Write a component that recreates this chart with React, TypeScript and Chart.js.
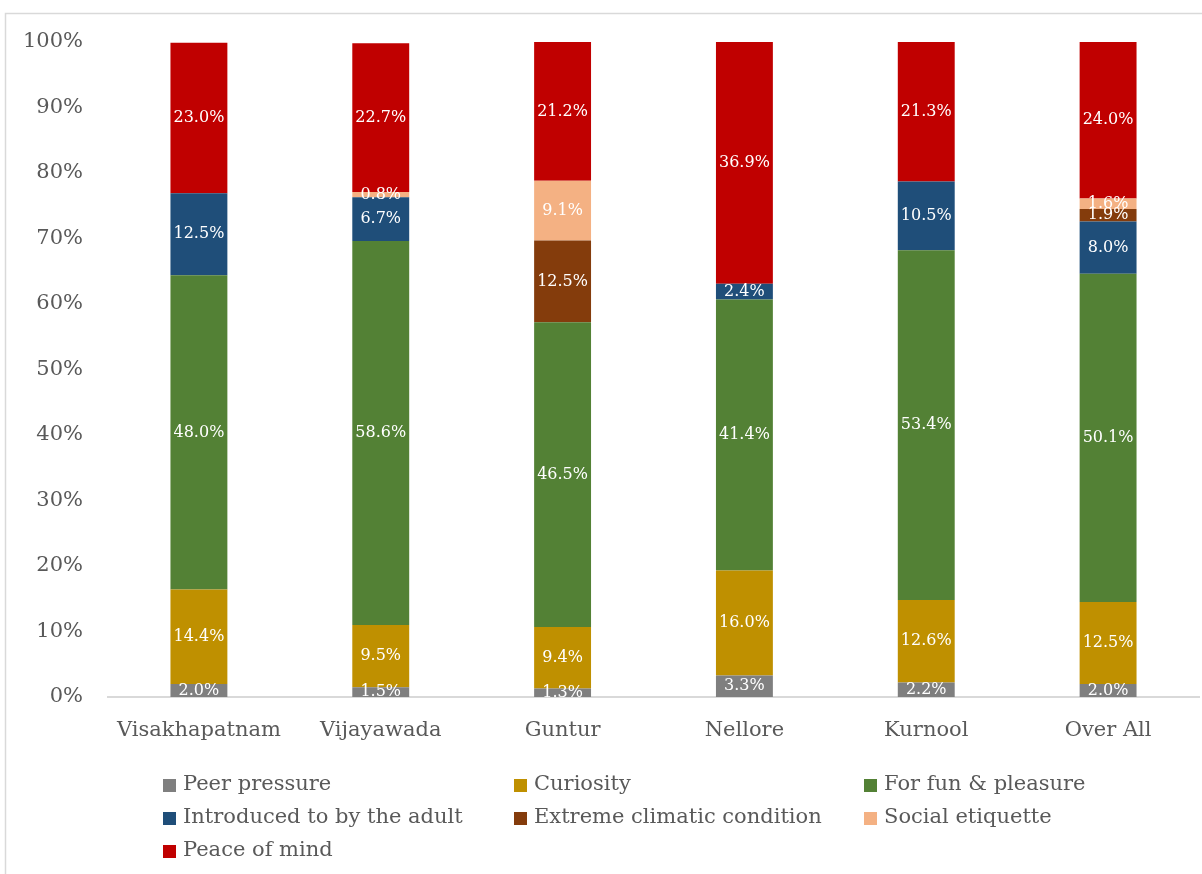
import React, { useEffect, useRef } from "react";
import { Chart, registerables } from "chart.js";

Chart.register(...registerables);

const categories = ["Visakhapatnam", "Vijayawada", "Guntur", "Nellore", "Kurnool", "Over All"];
const peerPressure = [2.0, 1.5, 1.3, 3.3, 2.2, 2.0];
const curiosity = [14.4, 9.5, 9.4, 16.0, 12.6, 12.5];
const funPleasure = [48.0, 58.6, 46.5, 41.4, 53.4, 50.1];
const introducedAdult = [12.5, 6.7, 0, 2.4, 10.5, 8.0];
const extremeClimate = [0, 0, 12.5, 0, 0, 1.9];
const socialEtiquette = [0, 0.8, 9.1, 0, 0, 1.6];
const peaceOfMind = [23.0, 22.7, 21.2, 36.9, 21.3, 24.0];
const yTicks = [0, 10, 20, 30, 40, 50, 60, 70, 80, 90, 100];

const seriesNames = [
  "Peer pressure",
  "Curiosity",
  "For fun & pleasure",
  "Introduced to by the adult",
  "Extreme climatic condition",
  "Social etiquette",
  "Peace of mind",
];
const seriesValues = [peerPressure, curiosity, funPleasure, introducedAdult, extremeClimate, socialEtiquette, peaceOfMind];
const seriesColors = ["#7f7f7f", "#bf9000", "#538135", "#1f4e79", "#843c0c", "#f4b183", "#c00000"];

const FONT = "'DejaVu Serif', 'Liberation Serif', serif";

const labelPlugin = {
  id: "segLabels",
  afterDatasetsDraw(chart: any) {
    const ctx = chart.ctx;
    ctx.save();
    ctx.fillStyle = "#ffffff";
    ctx.font = `16px ${FONT}`;
    ctx.textAlign = "center";
    ctx.textBaseline = "middle";
    chart.data.datasets.forEach((ds: any, i: number) => {
      const meta = chart.getDatasetMeta(i);
      meta.data.forEach((bar: any, j: number) => {
        const v = ds.data[j];
        if (!v) return;
        const p = bar.getProps(["x", "y", "base"], true);
        ctx.fillText(v.toFixed(1) + "%", p.x, (p.y + p.base) / 2);
      });
    });
    ctx.restore();
  },
};

const framePlugin = {
  id: "frame",
  beforeDraw(chart: any) {
    const ctx = chart.ctx;
    ctx.save();
    ctx.strokeStyle = "#d9d9d9";
    ctx.lineWidth = 1.5;
    ctx.strokeRect(5.5, 13.5, chart.width + 20, chart.height + 20);
    ctx.restore();
  },
};

const legendPlugin = {
  id: "gridLegend",
  afterDraw(chart: any) {
    const ctx = chart.ctx;
    ctx.save();
    ctx.font = `21px ${FONT}`;
    ctx.textBaseline = "middle";
    ctx.textAlign = "left";
    const colX = [163, 514, 864];
    const rowY = [785, 818, 851];
    chart.data.datasets.forEach((ds: any, i: number) => {
      const x = colX[i % 3];
      const y = rowY[Math.floor(i / 3)];
      ctx.fillStyle = ds.backgroundColor;
      ctx.fillRect(x, y - 6, 13, 13);
      ctx.fillStyle = "#595959";
      ctx.fillText(ds.label, x + 20, y);
    });
    ctx.restore();
  },
};

export default function App() {
  const ref = useRef<HTMLCanvasElement>(null);
  useEffect(() => {
    document.body.style.margin = "0";
    const chart = new Chart(ref.current as HTMLCanvasElement, {
      type: "bar",
      data: {
        labels: categories,
        datasets: seriesNames.map((name, i) => ({
          label: name,
          data: seriesValues[i],
          backgroundColor: seriesColors[i],
          borderWidth: 0,
          categoryPercentage: 1,
          barPercentage: 0.313,
        })),
      },
      options: {
        responsive: false,
        animation: false,
        layout: { padding: { top: 42, right: 3, left: 0, bottom: 0 } },
        plugins: { legend: { display: false }, tooltip: { enabled: false }, title: { display: false } },
        scales: {
          x: {
            stacked: true,
            grid: { display: false },
            border: { display: true, color: "#d9d9d9", width: 2 },
            ticks: { color: "#595959", font: { family: FONT, size: 21 }, padding: 13 },
            afterFit: (s: any) => {
              s.height = 177;
            },
          },
          y: {
            stacked: true,
            min: 0,
            max: 100,
            grid: { display: false, drawTicks: false },
            border: { display: false },
            afterBuildTicks: (s: any) => {
              s.ticks = yTicks.map((v) => ({ value: v }));
            },
            ticks: {
              color: "#595959",
              font: { family: FONT, size: 21 },
              padding: 25,
              callback: (v: any) => v + "%",
            },
            afterFit: (s: any) => {
              s.width = 108;
            },
          },
        },
      },
      plugins: [framePlugin, labelPlugin, legendPlugin],
    });
    return () => chart.destroy();
  }, []);
  return (
    <div style={{ width: 1202, height: 874 }}>
      <canvas ref={ref} width={1202} height={874} />
    </div>
  );
}
